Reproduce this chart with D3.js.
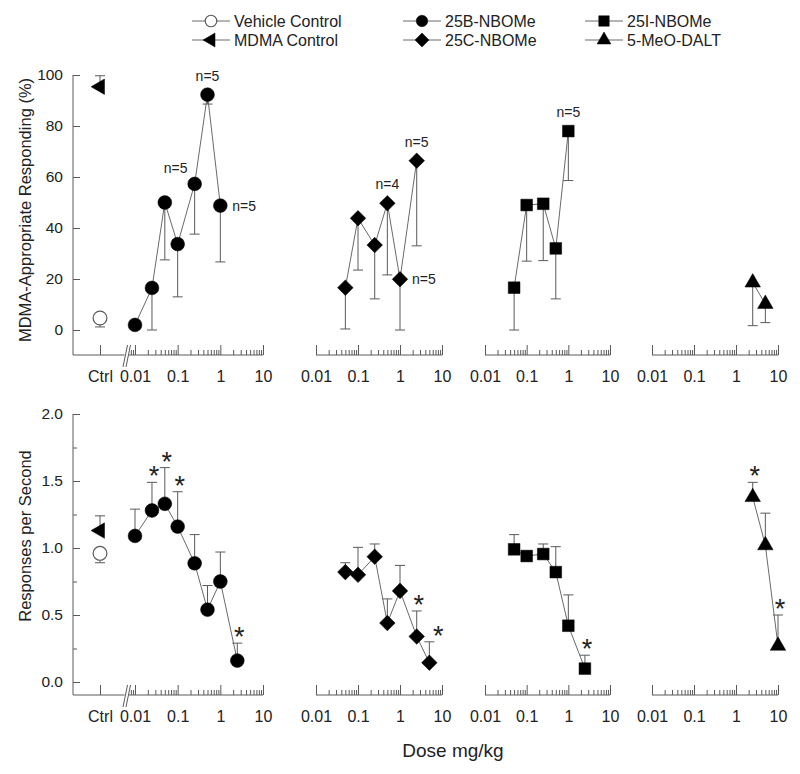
<!DOCTYPE html>
<html><head><meta charset="utf-8">
<script src="https://cdn.jsdelivr.net/npm/d3@7"></script>
<style>
body{margin:0;background:#fff}
text{font-family:"Liberation Sans",Arial,Helvetica,sans-serif;fill:#222}
</style>
</head><body>
<svg id="chart" width="800" height="774"></svg>
<script>
// ---------------- DATA ----------------
const seriesNames = ["Vehicle Control","MDMA Control","25B-NBOMe","25C-NBOMe","25I-NBOMe","5-MeO-DALT"];
const ctrlLabel = "Ctrl";
const xMajorTicks = [0.01, 0.1, 1, 10];
const xTickLabels = ["0.01", "0.1", "1", "10"];
const yTicksTop = [0, 20, 40, 60, 80, 100];
const yTicksBottom = [0, 0.5, 1, 1.5, 2];
const yTickLabelsBottom = ["0.0", "0.5", "1.0", "1.5", "2.0"];
const yMinorBottom = [0.25, 0.75, 1.25, 1.75];
const yTitleTop = "MDMA-Appropriate Responding (%)";
const yTitleBottom = "Responses per Second";
const xTitle = "Dose mg/kg";

// controls: [MDMA-appropriate %, sem], [rate, sem]
const vehiclePct = [4.7, 3.5];
const mdmaPct = [95.4, 4.3];
const vehicleRate = [0.96, 0.07];
const mdmaRate = [1.13, 0.11];

// 25B-NBOMe
const dose25B_pct = [0.01, 0.025, 0.05, 0.1, 0.25, 0.5, 1];
const pct25B = [2, 16.5, 50, 33.7, 57.3, 92.3, 48.8];
const pct25B_sem = [1.5, 16.5, 22.5, 20.7, 19.7, 3.7, 22.1];
const dose25B_rate = [0.01, 0.025, 0.05, 0.1, 0.25, 0.5, 1, 2.5];
const rate25B = [1.09, 1.28, 1.33, 1.16, 0.886, 0.54, 0.75, 0.16];
const rate25B_sem = [0.2, 0.21, 0.27, 0.26, 0.214, 0.18, 0.22, 0.13];

// 25C-NBOMe
const dose25C_pct = [0.05, 0.1, 0.25, 0.5, 1, 2.5];
const pct25C = [16.6, 43.8, 33.3, 49.7, 19.9, 66.4];
const pct25C_sem = [16.2, 20.3, 21.1, 28.1, 19.9, 33.4];
const dose25C_rate = [0.05, 0.1, 0.25, 0.5, 1, 2.5, 5];
const rate25C = [0.82, 0.80, 0.935, 0.44, 0.68, 0.34, 0.144];
const rate25C_sem = [0.07, 0.205, 0.095, 0.18, 0.19, 0.19, 0.156];

// 25I-NBOMe
const dose25I_pct = [0.05, 0.1, 0.25, 0.5, 1];
const pct25I = [16.6, 49, 49.5, 32, 78];
const pct25I_sem = [16.6, 22, 22.3, 19.8, 19.4];
const dose25I_rate = [0.05, 0.1, 0.25, 0.5, 1, 2.5];
const rate25I = [0.99, 0.94, 0.955, 0.82, 0.42, 0.10];
const rate25I_sem = [0.11, 0.03, 0.075, 0.19, 0.23, 0.10];

// 5-MeO-DALT
const doseDALT_pct = [2.5, 5];
const pctDALT = [18.6, 10.2];
const pctDALT_sem = [16.9, 7.3];
const doseDALT_rate = [2.5, 5, 10];
const rateDALT = [1.38, 1.02, 0.27];
const rateDALT_sem = [0.11, 0.24, 0.23];

// significance stars (doses) in rate panels
const stars25B = [0.025, 0.05, 0.1, 2.5];
const stars25C = [2.5, 5];
const stars25I = [2.5];
const starsDALT = [2.5, 10];

// n labels on % panels
const nLabels25B = [[0.05, "n=5", "aboveRight"], [0.5, "n=5", "above"], [1, "n=5", "right"]];
const nLabels25C = [[0.5, "n=4", "above"], [2.5, "n=5", "above"], [1, "n=5", "right"]];
const nLabels25I = [[1, "n=5", "above"]];

// ---------------- LAYOUT ----------------
const svg = d3.select("#chart");
const GRAY = "#5a5a5a";
const LINE = "#6a6a6a";

const panelRanges = [[135, 263], [316, 442], [485, 610], [652, 778]];
const xs = panelRanges.map(r => d3.scaleLog().domain([0.01, 10]).range(r));
const ctrlX = d3.scalePoint().domain([ctrlLabel]).range([73, 127]).padding(0.5);
const yAxisX = 73;

const rows = [
  {y: d3.scaleLinear().domain([0, 100]).range([330, 75]), axisY: 355, dir: 1,
   ticks: yTicksTop, tickLabels: yTicksTop.map(String), minor: [], title: yTitleTop, titleY: 210,
   vehicle: vehiclePct, mdma: mdmaPct,
   series: [
     {p: 0, m: "circle", d: dose25B_pct, v: pct25B, s: pct25B_sem, n: nLabels25B},
     {p: 1, m: "diamond", d: dose25C_pct, v: pct25C, s: pct25C_sem, n: nLabels25C},
     {p: 2, m: "square", d: dose25I_pct, v: pct25I, s: pct25I_sem, n: nLabels25I},
     {p: 3, m: "triangle", d: doseDALT_pct, v: pctDALT, s: pctDALT_sem, n: []}
   ]},
  {y: d3.scaleLinear().domain([0, 2]).range([682, 414]), axisY: 695, dir: -1,
   ticks: yTicksBottom, tickLabels: yTickLabelsBottom, minor: yMinorBottom, title: yTitleBottom, titleY: 536,
   vehicle: vehicleRate, mdma: mdmaRate,
   series: [
     {p: 0, m: "circle", d: dose25B_rate, v: rate25B, s: rate25B_sem, st: stars25B},
     {p: 1, m: "diamond", d: dose25C_rate, v: rate25C, s: rate25C_sem, st: stars25C},
     {p: 2, m: "square", d: dose25I_rate, v: rate25I, s: rate25I_sem, st: stars25I},
     {p: 3, m: "triangle", d: doseDALT_rate, v: rateDALT, s: rateDALT_sem, st: starsDALT}
   ]}
];

function markerPath(type, scale) {
  scale = scale || 1;
  switch (type) {
    case "circle": return d3.symbol(d3.symbolCircle, Math.PI * 6.9 * 6.9 * scale)();
    case "square": return d3.symbol(d3.symbolSquare, 11.7 * 11.7 * scale)();
    case "diamond": return d3.symbol(d3.symbolSquare, 11 * 11 * scale)();
    case "triangle": return d3.symbol(d3.symbolTriangle, 104 * scale)();
    case "left": return d3.symbol(d3.symbolTriangle, 104 * scale)();
  }
}
function markerRot(type) { return type === "diamond" ? 45 : (type === "left" ? -90 : 0); }

function drawMarker(g, type, x, y, open, scale) {
  g.append("path")
    .attr("d", markerPath(type, scale))
    .attr("transform", `translate(${x},${y}) rotate(${markerRot(type)})`)
    .attr("fill", open ? "#fff" : "#000")
    .attr("stroke", open ? GRAY : "#000")
    .attr("stroke-width", open ? 1.2 : 0.5);
}

function errBar(g, x, y0, y1) {
  g.append("line").attr("x1", x).attr("x2", x).attr("y1", y0).attr("y2", y1)
    .attr("stroke", GRAY).attr("stroke-width", 1);
  g.append("line").attr("x1", x - 5).attr("x2", x + 5).attr("y1", y1).attr("y2", y1)
    .attr("stroke", GRAY).attr("stroke-width", 1);
}

// minor ticks for log axis
function minorTicks(first) {
  const out = first ? [0.008, 0.009] : [];
  [0.01, 0.1, 1].forEach(b => { for (let k = 2; k <= 9; k++) out.push(+(b * k).toPrecision(3)); });
  return out;
}

rows.forEach(row => {
  const g = svg.append("g");
  const yS = row.y;

  // Y axis line
  g.append("line").attr("x1", yAxisX).attr("x2", yAxisX)
    .attr("y1", yS(yS.domain()[1])).attr("y2", row.axisY)
    .attr("stroke", GRAY).attr("stroke-width", 1);
  const yAx = g.append("g").attr("transform", `translate(${yAxisX},0)`)
    .call(d3.axisLeft(yS).tickValues(row.ticks).tickFormat((d, i) => row.tickLabels[i])
      .tickSizeInner(-7).tickSizeOuter(0).tickPadding(10));
  yAx.select(".domain").remove();
  yAx.selectAll("line").attr("stroke", GRAY);
  yAx.selectAll("text").style("font-size", "15.5px").attr("fill", "#222");
  if (row.minor.length) {
    const ym = g.append("g").attr("transform", `translate(${yAxisX},0)`)
      .call(d3.axisLeft(yS).tickValues(row.minor).tickFormat("").tickSizeInner(-4).tickSizeOuter(0));
    ym.select(".domain").remove();
    ym.selectAll("line").attr("stroke", GRAY);
  }

  // Y title
  g.append("text")
    .attr("transform", `translate(25,${row.titleY}) rotate(-90)`)
    .attr("text-anchor", "middle").attr("dominant-baseline", "central")
    .style("font-size", "16.5px").text(row.title);

  // ctrl segment of x axis
  g.append("line").attr("x1", yAxisX).attr("x2", 124.5).attr("y1", row.axisY).attr("y2", row.axisY)
    .attr("stroke", GRAY);
  const cAx = g.append("g").attr("transform", `translate(0,${row.axisY})`)
    .call(d3.axisBottom(ctrlX).tickSizeInner(-10).tickSizeOuter(0).tickPadding(16));
  cAx.select(".domain").remove();
  cAx.selectAll("line").attr("stroke", GRAY);
  cAx.selectAll("text").style("font-size", "16px").attr("fill", "#222");
  // axis break //
  [0, 3].forEach(o => {
    g.append("line").attr("x1", 123 + o).attr("x2", 127.5 + o)
      .attr("y1", row.axisY + 12).attr("y2", row.axisY - 10)
      .attr("stroke", GRAY).attr("stroke-width", 1);
  });

  // log x axes per panel
  xs.forEach((xS, i) => {
    const left = i === 0 ? 129 : xS(0.01);
    g.append("line").attr("x1", left).attr("x2", xS(10)).attr("y1", row.axisY).attr("y2", row.axisY)
      .attr("stroke", GRAY);
    const minX = i === 0 ? d3.scaleLog().domain([0.01, 10]).range(panelRanges[0]) : xS;
    const mAx = g.append("g").attr("transform", `translate(0,${row.axisY})`)
      .call(d3.axisBottom(minX).tickValues(minorTicks(i === 0)).tickFormat("").tickSizeInner(-5).tickSizeOuter(0));
    mAx.select(".domain").remove();
    mAx.selectAll("line").attr("stroke", GRAY);
    const MAx = g.append("g").attr("transform", `translate(0,${row.axisY})`)
      .call(d3.axisBottom(xS).tickValues(xMajorTicks).tickFormat((d, k) => xTickLabels[k])
        .tickSizeInner(-10).tickSizeOuter(0).tickPadding(16));
    MAx.select(".domain").remove();
    MAx.selectAll("line").attr("stroke", GRAY);
    MAx.selectAll("text").style("font-size", "16px").attr("fill", "#222");
  });

  // series lines
  row.series.forEach(s => {
    const xS = xs[s.p];
    const pts = s.d.map((d, i) => [xS(d), yS(s.v[i])]);
    g.append("path").attr("d", d3.line()(pts)).attr("fill", "none")
      .attr("stroke", LINE).attr("stroke-width", 1);
  });
  // error bars
  row.series.forEach(s => {
    const xS = xs[s.p];
    s.d.forEach((d, i) => {
      const v = s.v[i], e = s.s[i];
      errBar(g, xS(d), yS(v), yS(v - row.dir * e));
    });
  });
  // controls
  const cx = ctrlX(ctrlLabel);
  errBar(g, cx, yS(row.vehicle[0]), yS(row.vehicle[0] - row.vehicle[1]));
  errBar(g, cx, yS(row.mdma[0]), yS(row.mdma[0] + row.mdma[1]));
  drawMarker(g, "left", cx, yS(row.mdma[0]), false);
  drawMarker(g, "circle", cx, yS(row.vehicle[0]), true);

  // markers
  row.series.forEach(s => {
    const xS = xs[s.p];
    s.d.forEach((d, i) => drawMarker(g, s.m, xS(d), yS(s.v[i]), false));
  });

  // n labels
  row.series.forEach(s => {
    if (!s.n) return;
    const xS = xs[s.p];
    s.n.forEach(([d, txt, pos]) => {
      const i = s.d.indexOf(d);
      const px = xS(d), py = yS(s.v[i]);
      const t = g.append("text").style("font-size", "14px").text(txt);
      if (pos === "above") t.attr("x", px).attr("y", py - 14).attr("text-anchor", "middle");
      else if (pos === "right") t.attr("x", px + 12).attr("y", py + 5).attr("text-anchor", "start");
      else t.attr("x", px - 1).attr("y", py - 30).attr("text-anchor", "start");
    });
  });

  // stars
  row.series.forEach(s => {
    if (!s.st) return;
    const xS = xs[s.p];
    s.st.forEach(d => {
      const i = s.d.indexOf(d);
      const top = yS(s.v[i] + s.s[i]);
      const nudge = (i === s.d.length - 1 && s.p === 1) ? 9 : 2;
      g.append("text").attr("x", xS(d) + nudge).attr("y", top + 3)
        .attr("text-anchor", "middle").style("font-size", "27px").attr("fill", "#111").text("*");
    });
  });
});

// X title
svg.append("text").attr("x", 453).attr("y", 757).attr("text-anchor", "middle")
  .style("font-size", "19px").text(xTitle);

// Legend
const legendItems = [
  {name: seriesNames[0], m: "circle", open: true, x: 211, y: 21},
  {name: seriesNames[1], m: "left", open: false, x: 211, y: 40},
  {name: seriesNames[2], m: "circle", open: false, x: 422, y: 21},
  {name: seriesNames[3], m: "diamond", open: false, x: 422, y: 40},
  {name: seriesNames[4], m: "square", open: false, x: 604, y: 21},
  {name: seriesNames[5], m: "triangle", open: false, x: 604, y: 40}
];
const lg = svg.append("g");
legendItems.forEach(it => {
  lg.append("line").attr("x1", it.x - 19).attr("x2", it.x + 19).attr("y1", it.y).attr("y2", it.y)
    .attr("stroke", LINE).attr("stroke-width", 1);
  drawMarker(lg, it.m, it.x, it.y, it.open, it.m === "circle" ? 0.7 : 0.8);
  lg.append("text").attr("x", it.x + 23).attr("y", it.y + 5.5).style("font-size", "16px").text(it.name);
});
</script>
</body></html>
